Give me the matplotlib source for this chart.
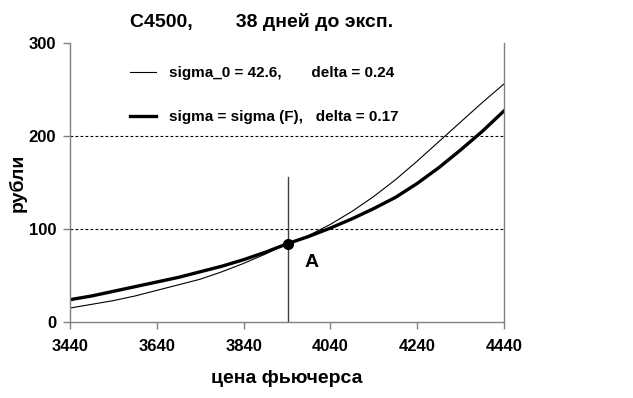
import matplotlib.pyplot as plt

# price of futures
futures = [3440, 3490, 3540, 3590, 3640, 3690, 3740, 3790, 3840, 3890, 3940,
           3990, 4040, 4090, 4140, 4190, 4240, 4290, 4340, 4390, 4440]
sigma_const = [15, 19, 23, 28, 34, 40, 46, 54, 63, 73, 84,
               93, 105, 119, 135, 153, 173, 194, 215, 236, 256]
sigma_f = [24, 28, 33, 38, 43, 48, 54, 60, 67, 75, 84,
           92, 101, 111, 122, 134, 149, 166, 185, 205, 227]

point_a = (3942, 84)
vline_top = 156

xticks = [3440, 3640, 3840, 4040, 4240, 4440]
yticks = [0, 100, 200, 300]

label_const = "sigma_0 = 42.6,       delta = 0.24"
label_f = "sigma = sigma (F),   delta = 0.17"

plt.rcParams["font.family"] = ["Liberation Sans", "DejaVu Sans"]
plt.rcParams["font.weight"] = "bold"

fig = plt.figure(figsize=(6.33, 3.98), dpi=100)
ax = fig.add_axes((70 / 633, 76 / 398, 434 / 633, 279 / 398))

ax.plot(futures, sigma_const, color="black", lw=0.8, label=label_const)
ax.plot(futures, sigma_f, color="black", lw=2.4, label=label_f)
ax.plot([point_a[0], point_a[0]], [0, vline_top], color="#404040", lw=1)
ax.plot(*point_a, "o", color="black", ms=7)
ax.text(point_a[0] + 38, point_a[1] - 20, "A", fontsize=14, fontweight="bold",
        ha="left", va="center")

for y in [100, 200]:
    ax.axhline(y, color="black", lw=0.8, ls=(0, (2.5, 2)))

ax.set_xlim(3440, 4440)
ax.set_ylim(0, 300)
ax.set_xticks(xticks)
ax.set_yticks(yticks)
ax.tick_params(labelsize=12, length=5, width=1, color="#808080", pad=5)
for lab in ax.get_xticklabels() + ax.get_yticklabels():
    lab.set_fontweight("bold")
ax.tick_params(axis="x", pad=7)

for s in ["left", "bottom", "right"]:
    ax.spines[s].set_color("#808080")
    ax.spines[s].set_linewidth(1)
ax.spines["top"].set_visible(False)

ax.set_xlabel("цена фьючерса", fontsize=14, fontweight="bold", labelpad=12)
fig.text(18 / 633, 1 - 183 / 398, "рубли", rotation=90, fontsize=14,
         fontweight="bold", ha="center", va="center")

fig.text(262 / 633, 1 - 22 / 398, "C4500,        38 дней до эксп.",
         fontsize=14, fontweight="bold", ha="center", va="center")

leg = ax.legend(loc="upper left", bbox_to_anchor=(0.125, 0.94), frameon=False,
                fontsize=11, handlelength=1.7, handletextpad=0.8, labelspacing=2.0,
                borderaxespad=0)
for t in leg.get_texts():
    t.set_fontweight("bold")

fig.savefig("out.png", dpi=100)
